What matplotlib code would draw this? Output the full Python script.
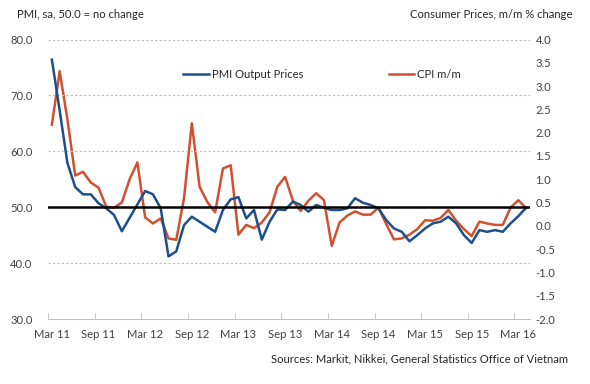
import matplotlib
matplotlib.use("Agg")
import matplotlib.pyplot as plt
from matplotlib.ticker import FixedLocator, FormatStrFormatter

plt.rcParams['font.family'] = ['Lato', 'DejaVu Sans']

# monthly data, Mar 2011 .. Apr 2016
pmi_output = [76.4, 67.3, 57.9, 53.6, 52.3, 52.3, 50.7, 49.8, 48.6, 45.7,
              48.1, 50.5, 52.9, 52.3, 49.8, 41.2, 42.1, 46.8, 48.3, 47.4,
              46.5, 45.6, 49.5, 51.4, 51.8, 48.0, 49.5, 44.2, 47.4, 49.6,
              49.5, 51.0, 50.4, 49.2, 50.4, 49.9, 49.5, 49.5, 49.8, 51.6,
              50.8, 50.4, 49.8, 47.7, 46.2, 45.6, 43.9, 45.0, 46.2, 47.1,
              47.4, 48.3, 47.1, 45.0, 43.6, 45.9, 45.6, 45.9, 45.6, 47.1,
              48.4, 49.9]
cpi_mm = [2.17, 3.32, 2.28, 1.08, 1.16, 0.93, 0.82, 0.41, 0.39, 0.50,
          1.00, 1.36, 0.18, 0.05, 0.16, -0.27, -0.30, 0.60, 2.20, 0.84,
          0.51, 0.29, 1.23, 1.30, -0.19, 0.02, -0.05, 0.07, 0.29, 0.84,
          1.05, 0.54, 0.32, 0.54, 0.70, 0.55, -0.43, 0.07, 0.22, 0.31,
          0.24, 0.24, 0.39, 0.04, -0.29, -0.27, -0.19, -0.07, 0.12, 0.11,
          0.17, 0.34, 0.11, -0.07, -0.22, 0.09, 0.05, 0.02, 0.02, 0.39,
          0.55, 0.38]
tick_labels = ["Mar 11", "Sep 11", "Mar 12", "Sep 12", "Mar 13", "Sep 13",
               "Mar 14", "Sep 14", "Mar 15", "Sep 15", "Mar 16"]

blue = '#1F4E8C'
red = '#D0502F'
grey = '#BFBFBF'
txt = '#404040'
fs = 8.1

months = list(range(len(pmi_output)))

fig = plt.figure(figsize=(5.9, 3.84), dpi=100)
ax = fig.add_axes([48/590, 1 - 319/384, (530 - 48)/590, (319 - 39.5)/384])
ax2 = ax.twinx()

# left axis (PMI)
ax.set_ylim(30, 80)
ax.set_yticks([30, 40, 50, 60, 70, 80])
ax.yaxis.set_major_formatter(FormatStrFormatter('%.1f'))
ax.set_xlim(-0.5, len(months) - 0.5)
for y in [40, 60, 70, 80]:
    ax.axhline(y, color=grey, lw=0.8, ls=(0, (2, 2)), zorder=1)
ax.axhline(50, color='black', lw=1.8, zorder=4)

l1, = ax.plot(months, pmi_output, color=blue, lw=1.8, zorder=3,
              label='PMI Output Prices')

# right axis (CPI)
ax2.set_ylim(-2.0, 4.0)
ax2.set_yticks([i * 0.5 - 2.0 for i in range(13)])
ax2.yaxis.set_major_formatter(FormatStrFormatter('%.1f'))
l2, = ax2.plot(months, cpi_mm, color=red, lw=1.8, zorder=2, label='CPI m/m')
ax.set_zorder(ax2.get_zorder() + 1)
ax.patch.set_visible(False)

# x axis: labels on the month, tick marks between categories
ax.set_xticks(list(range(0, len(months), 6)))
ax.set_xticklabels(tick_labels)
ax.xaxis.set_minor_locator(FixedLocator([m - 0.5 for m in range(0, len(months) + 1, 6)]))
ax.tick_params(axis='x', which='major', length=0, pad=7, labelsize=fs, labelcolor=txt)
ax.tick_params(axis='x', which='minor', length=4, direction='in', color=grey)
ax.tick_params(axis='y', length=0, pad=11, labelsize=fs, labelcolor=txt)
ax2.tick_params(axis='y', length=0, pad=4, labelsize=fs, labelcolor=txt)

for a in (ax, ax2):
    for s in ['top', 'left', 'right']:
        a.spines[s].set_visible(False)
    a.spines['bottom'].set_color(grey)
ax2.spines['bottom'].set_visible(False)

leg = ax.legend(handles=[l1, l2], ncol=2, frameon=False, loc='upper left',
                bbox_to_anchor=(0.26, 0.93), handlelength=2.3, handletextpad=0.2,
                columnspacing=7.6, fontsize=fs)
for t in leg.get_texts():
    t.set_color('#262626')

fig.text(17/590, 1 - 15/384, 'PMI, sa, 50.0 = no change', fontsize=fs,
         color='#262626', va='center', ha='left')
fig.text(573/590, 1 - 15/384, 'Consumer Prices, m/m % change', fontsize=fs,
         color='#262626', va='center', ha='right')
fig.text(568/590, 1 - 359/384, 'Sources: Markit, Nikkei, General Statistics Office of Vietnam',
         fontsize=fs, color='#262626', va='center', ha='right')

fig.savefig('out.png', dpi=100)
